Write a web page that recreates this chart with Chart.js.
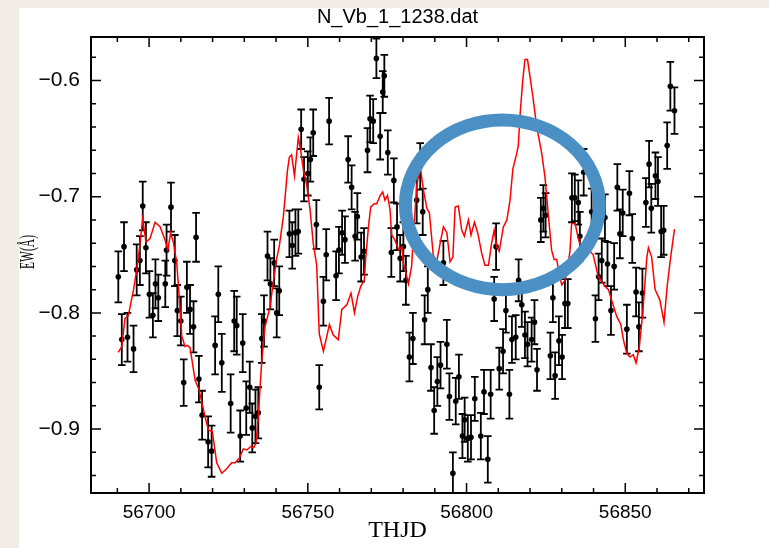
<!DOCTYPE html>
<html>
<head>
<meta charset="utf-8">
<script src="https://cdn.jsdelivr.net/npm/chart.js@4.4.0/dist/chart.umd.min.js"></script>
<style>
  html, body { margin: 0; padding: 0; background: #f1ede6; }
  #wrap { width: 769px; height: 548px; }
</style>
</head>
<body>
<div id="wrap"><canvas id="ewChart" width="769" height="548"></canvas></div>
<script>
// ==== 관측점 (THJD, EW, 오차) ==== //
const obsX = [
  56690.3, 56691.4, 56692.1, 56693.2, 56695.1, 56696.1, 56697.1, 56698.0, 56699.0, 56700.1,
  56701.2, 56702.0, 56702.9, 56705.1, 56705.5, 56706.9, 56708.1, 56708.9, 56710.0, 56710.9,
  56711.9, 56712.9, 56714.0, 56714.8, 56715.7, 56716.7, 56718.6, 56719.7, 56720.8, 56721.8,
  56722.9, 56725.7, 56726.8, 56727.6, 56728.7, 56729.5, 56730.6, 56731.7, 56732.5, 56733.5,
  56734.4, 56735.5, 56736.2, 56737.3, 56738.2, 56739.4, 56740.2, 56741.0, 56744.2, 56745.1,
  56746.1, 56747.0, 56747.9, 56748.8, 56750.0, 56750.8, 56751.7, 56752.7, 56753.6, 56754.9,
  56755.8, 56756.7, 56758.9, 56759.8, 56760.8, 56761.7, 56762.7, 56763.8, 56764.9, 56765.6,
  56766.8, 56767.7, 56768.8, 56769.6, 56770.6, 56771.6, 56772.8, 56773.6, 56774.1, 56775.2,
  56776.3, 56777.1, 56778.1, 56779.1, 56780.1, 56780.9, 56782.0, 56783.1, 56784.3, 56785.4,
  56786.2, 56786.8, 56787.8, 56788.8, 56789.8, 56790.8, 56791.8, 56792.7, 56793.8, 56794.6,
  56795.7, 56796.6, 56797.6, 56798.7, 56799.4, 56800.4, 56801.4, 56802.6, 56804.5, 56805.5,
  56806.7, 56807.6, 56808.7, 56809.3, 56810.3, 56811.5, 56812.4, 56813.5, 56814.3, 56815.5,
  56816.4, 56817.4, 56818.4, 56819.2, 56820.5, 56821.4, 56822.2, 56823.4, 56824.2, 56824.9,
  56826.4, 56827.2, 56827.9, 56829.1, 56830.1, 56831.0, 56831.9, 56833.2, 56834.1, 56835.2,
  56835.7, 56836.9, 56839.4, 56840.6, 56841.6, 56842.6, 56843.6, 56844.4, 56845.5, 56846.5,
  56847.5, 56848.3, 56849.2, 56850.5, 56851.3, 56852.2, 56853.4, 56854.3, 56855.4, 56856.5,
  56857.5, 56858.2, 56859.5, 56860.3, 56861.3, 56862.1, 56863.2, 56864.2, 56865.5
];
const obsY = [
  -0.769, -0.823, -0.743, -0.821, -0.831, -0.763, -0.755, -0.708, -0.744, -0.784,
  -0.802, -0.775, -0.787, -0.775, -0.746, -0.709, -0.755, -0.798, -0.807, -0.860,
  -0.778, -0.797, -0.812, -0.735, -0.857, -0.888, -0.911, -0.919, -0.828, -0.784,
  -0.843, -0.878, -0.807, -0.811, -0.906, -0.826, -0.882, -0.864, -0.899, -0.889,
  -0.886, -0.822, -0.807, -0.751, -0.775, -0.757, -0.800, -0.781, -0.732, -0.742,
  -0.731, -0.730, -0.642, -0.685, -0.680, -0.668, -0.645, -0.724, -0.864, -0.790,
  -0.750, -0.635, -0.768, -0.746, -0.731, -0.737, -0.668, -0.692, -0.734, -0.717,
  -0.752, -0.747, -0.660, -0.633, -0.635, -0.581, -0.648, -0.610, -0.596, -0.662,
  -0.748, -0.686, -0.726, -0.753, -0.743, -0.772, -0.838, -0.822, -0.703, -0.674,
  -0.713, -0.806, -0.780, -0.847, -0.884, -0.859, -0.845, -0.757, -0.827, -0.872,
  -0.938, -0.876, -0.855, -0.906, -0.892, -0.908, -0.907, -0.874, -0.906, -0.868,
  -0.926, -0.870, -0.788, -0.743, -0.848, -0.833, -0.798, -0.870, -0.823, -0.821,
  -0.772, -0.793, -0.819, -0.827, -0.823, -0.808, -0.849, -0.720, -0.710, -0.716,
  -0.837, -0.787, -0.854, -0.824, -0.838, -0.792, -0.792, -0.701, -0.701, -0.705,
  -0.734, -0.679, -0.713, -0.805, -0.769, -0.755, -0.718, -0.758, -0.798, -0.760,
  -0.692, -0.732, -0.714, -0.814, -0.697, -0.736, -0.782, -0.812, -0.783, -0.705,
  -0.672, -0.710, -0.682, -0.687, -0.730, -0.729, -0.656, -0.605, -0.626
];
const obsErr = [
  0.022, 0.022, 0.021, 0.021, 0.020, 0.022, 0.021, 0.021, 0.022, 0.020,
  0.019, 0.021, 0.020, 0.020, 0.022, 0.021, 0.022, 0.022, 0.021, 0.020,
  0.022, 0.021, 0.022, 0.021, 0.020, 0.021, 0.022, 0.022, 0.025, 0.024,
  0.025, 0.025, 0.026, 0.025, 0.022, 0.025, 0.023, 0.022, 0.021, 0.023,
  0.022, 0.021, 0.022, 0.021, 0.022, 0.020, 0.021, 0.021, 0.020, 0.020,
  0.020, 0.019, 0.017, 0.019, 0.019, 0.019, 0.020, 0.021, 0.019, 0.021,
  0.022, 0.020, 0.021, 0.020, 0.019, 0.020, 0.020, 0.019, 0.021, 0.020,
  0.021, 0.020, 0.019, 0.020, 0.019, 0.017, 0.020, 0.018, 0.018, 0.019,
  0.021, 0.019, 0.020, 0.020, 0.021, 0.021, 0.021, 0.022, 0.020, 0.020,
  0.020, 0.021, 0.020, 0.020, 0.020, 0.021, 0.020, 0.019, 0.021, 0.020,
  0.018, 0.020, 0.019, 0.019, 0.019, 0.020, 0.019, 0.019, 0.020, 0.019,
  0.020, 0.021, 0.019, 0.020, 0.018, 0.019, 0.019, 0.021, 0.020, 0.019,
  0.018, 0.019, 0.020, 0.019, 0.019, 0.019, 0.018, 0.019, 0.020, 0.019,
  0.020, 0.021, 0.020, 0.021, 0.019, 0.021, 0.021, 0.021, 0.020, 0.019,
  0.021, 0.020, 0.020, 0.020, 0.020, 0.019, 0.020, 0.019, 0.021, 0.020,
  0.020, 0.021, 0.020, 0.021, 0.019, 0.021, 0.021, 0.021, 0.021, 0.021,
  0.020, 0.021, 0.020, 0.021, 0.022, 0.021, 0.020, 0.021, 0.020
];

// ==== 모델 곡선 (빨간 선) ==== //
const modelX = [
  56690.3, 56691.4, 56692.4, 56693.5, 56695.1, 56696.1, 56696.9, 56698.0, 56699.0, 56700.3,
  56701.9, 56703.5, 56705.0, 56705.9, 56706.8, 56707.7, 56708.7, 56709.2, 56710.3, 56711.3,
  56712.1, 56712.9, 56714.5, 56715.7, 56717.6, 56718.7, 56719.9, 56721.3, 56722.9, 56724.5,
  56726.0, 56727.1, 56728.4, 56729.7, 56730.8, 56732.0, 56732.9, 56733.7, 56734.4, 56735.5,
  56736.5, 56738.1, 56739.0, 56740.2, 56741.0, 56742.3, 56743.6, 56744.2, 56744.9, 56745.8,
  56747.0, 56747.8, 56748.6, 56749.7, 56750.7, 56751.7, 56752.8, 56753.6, 56754.9, 56756.0,
  56756.8, 56758.0, 56759.6, 56760.7, 56762.3, 56763.6, 56764.7, 56765.7, 56766.7, 56767.8,
  56768.2, 56769.1, 56769.8, 56770.9, 56771.7, 56772.8, 56773.6, 56774.3, 56775.1, 56775.9,
  56776.4, 56777.2, 56777.8, 56778.7, 56779.6, 56780.1, 56780.9, 56781.7, 56782.7, 56783.2,
  56784.3, 56785.4, 56786.4, 56787.5, 56788.3, 56789.5, 56790.6, 56791.7, 56792.7, 56793.8,
  56794.8, 56795.7, 56796.4, 56797.4, 56798.5, 56799.3, 56800.6, 56801.4, 56802.5, 56803.5,
  56804.8, 56805.8, 56806.9, 56807.9, 56808.7, 56809.5, 56810.3, 56811.6, 56812.7, 56813.7,
  56814.6, 56815.8, 56816.3, 56816.9, 56817.7, 56818.4, 56819.2, 56820.0, 56820.9, 56822.1,
  56823.7, 56824.7, 56825.8, 56826.8, 56827.6, 56828.4, 56829.4, 56830.0, 56831.0, 56832.1,
  56832.6, 56833.1, 56834.2, 56835.2, 56836.3, 56837.9, 56838.9, 56839.9, 56841.5, 56842.6,
  56843.6, 56844.7, 56845.7, 56847.3, 56848.6, 56849.4, 56850.5, 56851.5, 56852.5, 56853.4,
  56854.4, 56855.5, 56856.8, 56857.3, 56858.3, 56859.4, 56860.9, 56862.2, 56863.2, 56864.3,
  56865.5
];
const modelY = [
  -0.834, -0.829, -0.805, -0.802, -0.780, -0.763, -0.746, -0.719, -0.739, -0.736,
  -0.722, -0.726, -0.737, -0.746, -0.731, -0.740, -0.757, -0.775, -0.820, -0.829,
  -0.828, -0.830, -0.858, -0.866, -0.889, -0.901, -0.902, -0.929, -0.938, -0.934,
  -0.929, -0.929, -0.925, -0.917, -0.918, -0.915, -0.916, -0.912, -0.889, -0.841,
  -0.812, -0.795, -0.776, -0.753, -0.743, -0.717, -0.677, -0.666, -0.664, -0.682,
  -0.649, -0.661, -0.677, -0.691, -0.711, -0.740, -0.759, -0.818, -0.833, -0.820,
  -0.810, -0.819, -0.823, -0.797, -0.793, -0.783, -0.800, -0.786, -0.777, -0.772,
  -0.754, -0.726, -0.709, -0.706, -0.706, -0.699, -0.696, -0.703, -0.699, -0.711,
  -0.733, -0.736, -0.740, -0.746, -0.743, -0.757, -0.766, -0.775, -0.760, -0.737,
  -0.691, -0.674, -0.694, -0.710, -0.714, -0.750, -0.756, -0.740, -0.726, -0.731,
  -0.756, -0.752, -0.709, -0.708, -0.729, -0.734, -0.720, -0.733, -0.722, -0.731,
  -0.749, -0.759, -0.759, -0.740, -0.729, -0.743, -0.747, -0.726, -0.720, -0.703,
  -0.676, -0.663, -0.656, -0.628, -0.600, -0.582, -0.582, -0.597, -0.614, -0.640,
  -0.663, -0.683, -0.717, -0.746, -0.754, -0.754, -0.769, -0.776, -0.772, -0.757,
  -0.746, -0.723, -0.723, -0.736, -0.746, -0.746, -0.747, -0.750, -0.769, -0.773,
  -0.777, -0.780, -0.789, -0.803, -0.810, -0.823, -0.835, -0.838, -0.836, -0.843,
  -0.830, -0.800, -0.752, -0.744, -0.752, -0.780, -0.789, -0.808, -0.777, -0.752,
  -0.728
];

// ==== 축 범위와 눈금 ==== //
const xRange = [56681.7, 56874.8];
const yRange = [-0.955, -0.5626];
const xMajorTicks = [56700, 56750, 56800, 56850];
const yMajorTicks = [-0.9, -0.8, -0.7, -0.6];
const plotTitle = 'N_Vb_1_1238.dat';

// 파란 타원 표시 (중심, 가로 반지름(일), 세로 반지름(EW))
const mark = { x: 56811.3, y: -0.707, rx: 30.55, ry: 0.073 };


// 배경 (베이지 테두리 + 흰 패널)
const panelBg = {
	id: 'panelBg',
	beforeDraw(chart) {
		const ctx = chart.ctx;
		ctx.save();
		ctx.fillStyle = '#f1ede6';
		ctx.fillRect(0, 0, chart.width, chart.height);
		ctx.fillStyle = '#ffffff';
		ctx.fillRect(19, 8, chart.width - 19, chart.height - 8);
		ctx.restore();
	}
};

// 오차 막대 - 점 데이터셋 바로 전에 그림
const errorBars = {
	id: 'errorBars',
	beforeDatasetDraw(chart, args) {
		if (args.index !== 1) return;
		const xs = chart.scales.x, ys = chart.scales.y, ctx = chart.ctx;
		const a = chart.chartArea;
		ctx.save();
		ctx.beginPath();
		ctx.rect(a.left, a.top, a.right - a.left, a.bottom - a.top);
		ctx.clip();
		ctx.strokeStyle = '#000';
		ctx.lineWidth = 1.8;
		ctx.beginPath();
		obsX.forEach((v, i) => {
			const px = xs.getPixelForValue(v);
			const top = ys.getPixelForValue(obsY[i] + obsErr[i]);
			const bot = ys.getPixelForValue(obsY[i] - obsErr[i]);
			ctx.moveTo(px, top); ctx.lineTo(px, bot);
			ctx.moveTo(px - 3.8, top); ctx.lineTo(px + 3.8, top);
			ctx.moveTo(px - 3.8, bot); ctx.lineTo(px + 3.8, bot);
		});
		ctx.stroke();
		ctx.restore();
	}
};

// 테두리 + 안쪽 눈금 + 제목 + 세로축 이름
const frameTicks = {
	id: 'frameTicks',
	afterDatasetsDraw(chart) {
		const { ctx, chartArea: a, scales: { x, y } } = chart;
		ctx.save();
		ctx.strokeStyle = '#000';
		ctx.lineWidth = 2;
		ctx.strokeRect(a.left, a.top, a.right - a.left, a.bottom - a.top);
		ctx.lineWidth = 1.5;
		ctx.beginPath();
		for (let v = 56690; v <= 56870; v += 10) {
			const len = xMajorTicks.includes(v) ? 10 : 5;
			const px = x.getPixelForValue(v);
			ctx.moveTo(px, a.bottom); ctx.lineTo(px, a.bottom - len);
			ctx.moveTo(px, a.top); ctx.lineTo(px, a.top + len);
		}
		for (let k = -47; k <= -29; k++) {
			const len = (k % 5 === 0) ? 10 : 5;
			const py = y.getPixelForValue(k * 0.02);
			ctx.moveTo(a.left, py); ctx.lineTo(a.left + len, py);
			ctx.moveTo(a.right, py); ctx.lineTo(a.right - len, py);
		}
		ctx.stroke();

		// 제목: 그림 영역 가운데 위
		ctx.fillStyle = '#000';
		ctx.textAlign = 'center';
		ctx.textBaseline = 'middle';
		ctx.font = '20px "Liberation Sans"';
		ctx.fillText(plotTitle, (a.left + a.right) / 2, 17);

		// EW(Å) - 원본처럼 좁게 눌린 글씨
		ctx.translate(28, (a.top + a.bottom) / 2 - 13);
		ctx.rotate(-Math.PI / 2);
		ctx.scale(0.55, 1);
		ctx.font = '21px "Liberation Serif"';
		ctx.fillText('EW(\u00c5)', 0, 0);
		ctx.restore();
	}
};

// 파란 타원
const circleMark = {
	id: 'circleMark',
	afterDraw(chart) {
		const { ctx, scales: { x, y } } = chart;
		const cx = x.getPixelForValue(mark.x), cy = y.getPixelForValue(mark.y);
		const rx = Math.abs(x.getPixelForValue(mark.x + mark.rx) - cx);
		const ry = Math.abs(y.getPixelForValue(mark.y + mark.ry) - cy);
		ctx.save();
		ctx.strokeStyle = '#4a90c4';
		ctx.lineWidth = 13;
		ctx.beginPath();
		ctx.ellipse(cx, cy, rx, ry, 0, 0, Math.PI * 2);
		ctx.stroke();
		ctx.restore();
	}
};

const ctxEl = document.getElementById('ewChart').getContext('2d');
const ewChart = new Chart(ctxEl, {
	type: 'scatter',
	data: {
		datasets: [{
			type: 'line',
			label: 'model',
			data: modelX.map((v, i) => ({ x: v, y: modelY[i] })),
			borderColor: '#ff0000',
			borderWidth: 1.5,
			pointRadius: 0,
			fill: false,
			tension: 0
		}, {
			label: 'EW',
			data: obsX.map((v, i) => ({ x: v, y: obsY[i] })),
			backgroundColor: '#000',
			borderColor: '#000',
			borderWidth: 0,
			pointRadius: 2.8
		}]
	},
	options: {
		responsive: false,
		animation: false,
		devicePixelRatio: 1,
		layout: { padding: { left: 0, right: 65, top: 37, bottom: 0 } },
		plugins: {
			legend: { display: false },
			tooltip: { enabled: false },
			title: { display: false }
		},
		scales: {
			x: {
				type: 'linear',
				min: xRange[0],
				max: xRange[1],
				afterFit(s) { s.height = 55; },
				grid: { display: false, drawTicks: false },
				border: { display: false },
				ticks: {
					stepSize: 50,
					includeBounds: false,
					maxRotation: 0,
					padding: 8,
					color: '#000',
					font: { family: 'Liberation Sans', size: 19 },
					callback: v => xMajorTicks.includes(v) ? String(v) : ''
				},
				title: {
					display: true,
					text: 'THJD',
					color: '#000',
					font: { family: 'Liberation Serif', size: 24 },
					padding: { top: 0, bottom: 3 }
				}
			},
			y: {
				type: 'linear',
				min: yRange[0],
				max: yRange[1],
				afterFit(s) { s.width = 91; },
				grid: { display: false, drawTicks: false },
				border: { display: false },
				ticks: {
					stepSize: 0.1,
					includeBounds: false,
					padding: 11,
					color: '#000',
					font: { family: 'Liberation Sans', size: 21 },
					callback: v => (Math.abs(v * 10 - Math.round(v * 10)) < 1e-6) ? v.toFixed(1).replace('-', '\u2212') : ''
				},
				title: { display: false }
			}
		}
	},
	plugins: [panelBg, errorBars, frameTicks, circleMark]
});
</script>
</body>
</html>
